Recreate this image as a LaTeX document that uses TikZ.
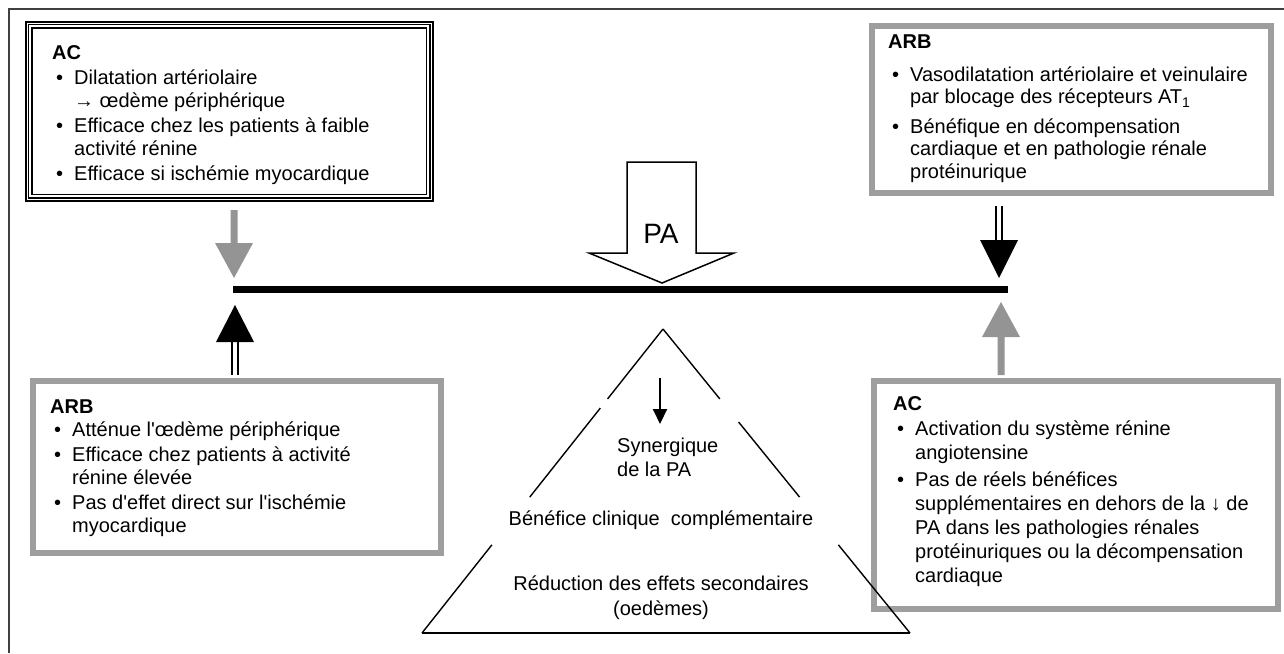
\documentclass[tikz,border=0pt]{standalone}
\usepackage{fontspec}
\setmainfont{Liberation Sans}
\usetikzlibrary{calc,arrows.meta}
\definecolor{boxgray}{gray}{0.62}
\definecolor{arrgray}{gray}{0.58}
\newcommand\bul{\hspace*{4pt}\makebox[18pt][l]{\textbullet}}
\newcommand\cont{\hspace*{22pt}}
\begin{document}
\begin{tikzpicture}[x=1pt,y=-1pt,
  txt/.style={inner sep=0pt, anchor=north west, align=left, font=\fontsize{20}{22.5}\selectfont},
  tritxt/.style={inner sep=0pt, font=\fontsize{20}{22.5}\selectfont},
  graybox/.style={draw=boxgray, line width=5.5pt, inner sep=0pt, anchor=north west},
  blackbox/.style={draw=black, line width=1.5pt, inner sep=0pt, anchor=north west},
  grayarrow/.style={fill=arrgray, draw=none},
  blackhead/.style={fill=black, draw=none},
  dblshaft/.style={draw=black, line width=1.6pt},
  triline/.style={draw=black, line width=1.4pt},
  pashape/.style={draw=black, line width=1.5pt, fill=white, line join=miter}
]
\useasboundingbox (0,0) rectangle (1284,653);
\fill[white] (0,0) rectangle (1284,653);
% outer frame
\draw[black!75, line width=1.2pt] (9,653) -- (9,9) -- (1284,9);

% ---------- boxes ----------
\node[blackbox, minimum width=407pt, minimum height=179pt] (acTL) at (25,21) {};
\draw[line width=1.1pt] ($(acTL.north west)+(3.5,3.5)$) rectangle ($(acTL.south east)+(-3.5,-3.5)$);
\draw[line width=1.1pt] ($(acTL.north west)+(7,7)$) rectangle ($(acTL.south east)+(-7,-7)$);

\node[graybox, minimum width=399pt, minimum height=167pt] (arbTR) at (869,23) {};
\node[graybox, minimum width=408pt, minimum height=172pt] (arbBL) at (30,378) {};
\node[graybox, minimum width=404pt, minimum height=228pt] (acBR) at (871,378) {};

% ---------- box texts ----------
\node[txt] (tAC1) at (52,45) {\textbf{AC}\\[3pt]
\bul Dilatation artériolaire\\
\cont → œdème périphérique\\[3pt]
\bul Efficace chez les patients à faible\\
\cont activité rénine\\[3pt]
\bul Efficace si ischémie myocardique};

\node[txt] (tARB1) at (888,35) {\textbf{ARB}\\[10pt]
\bul Vasodilatation artériolaire et veinulaire\\
\cont par blocage des récepteurs AT\textsubscript{1}\\[7pt]
\bul Bénéfique en décompensation\\
\cont cardiaque et en pathologie rénale\\
\cont protéinurique};

\node[txt] (tARB2) at (50,400) {\textbf{ARB}\\
\bul Atténue l\textquotesingle œdème périphérique\\[3pt]
\bul Efficace chez patients à activité\\
\cont rénine élevée\\[3pt]
\bul Pas d\textquotesingle effet direct sur l\textquotesingle ischémie\\
\cont myocardique};

\node[txt, font=\fontsize{20}{24}\selectfont] (tAC2) at (893,396) {\textbf{AC}\\[1pt]
\bul Activation du système rénine\\
\cont angiotensine\\[3pt]
\bul Pas de réels bénéfices\\
\cont supplémentaires en dehors de la ↓ de\\
\cont PA dans les pathologies rénales\\
\cont protéinuriques ou la décompensation\\
\cont cardiaque};

% ---------- balance bar ----------
\node[fill=black, inner sep=0pt, minimum width=775pt, minimum height=7pt, anchor=north west] (bar) at (233,286) {};

% ---------- PA arrow ----------
\coordinate (paTip) at (662,283);
\draw[pashape] (627,162) -- (696,162) -- (696,253) -- (734,253) -- (paTip) -- (589,253) -- (627,253) -- cycle;
\node[inner sep=0pt, anchor=base, font=\fontsize{28}{30}\selectfont] (paText) at (661,243) {PA};

% ---------- side arrows ----------
% left top: gray down from AC box
\coordinate (l1) at (234,210);
\coordinate (l1tip) at (234,278);
\fill[grayarrow] ($(l1)+(-3.5,0)$) -- ($(l1)+(3.5,0)$) -- (237.5,243) -- (253,243) -- (l1tip) -- (215,243) -- (230.5,243) -- cycle;
% left bottom: black up, double shaft from ARB box
\coordinate (l2tip) at (235,305);
\fill[blackhead] (l2tip) -- (254,342) -- (216,342) -- cycle;
\draw[dblshaft] (232,342) -- (232,375);
\draw[dblshaft] (238,342) -- (238,375);
% right top: black down, double shaft from ARB box
\coordinate (r1tip) at (999,278);
\draw[dblshaft] (996,206) -- (996,241);
\draw[dblshaft] (1002,206) -- (1002,241);
\fill[blackhead] (980,240) -- (1018,240) -- (r1tip) -- cycle;
% right bottom: gray up from AC box
\coordinate (r2tip) at (1001,302);
\fill[grayarrow] (r2tip) -- (1020,337) -- (1004.5,337) -- (1004.5,375) -- (997.5,375) -- (997.5,337) -- (982,337) -- cycle;

% ---------- triangle ----------
\coordinate (apex) at (663,329);
\coordinate (bl) at (422,633);
\coordinate (br) at (910,633);
\draw[triline] (bl) -- (br);
\draw[triline] (apex) -- ($(apex)!0.23!(bl)$);
\draw[triline] ($(apex)!0.26!(bl)$) -- ($(apex)!0.553!(bl)$);
\draw[triline] ($(apex)!0.71!(bl)$) -- (bl);
\draw[triline] (apex) -- ($(apex)!0.23!(br)$);
\draw[triline] ($(apex)!0.306!(br)$) -- ($(apex)!0.553!(br)$);
\draw[triline] ($(apex)!0.71!(br)$) -- (br);

\coordinate (sa1) at (660,378);
\coordinate (sa2) at (660,424);
\draw[line width=2pt, -{Triangle[width=14pt,length=15pt]}] (sa1) -- (sa2);

\node[tritxt, anchor=base west] (syn1) at (617,452) {Synergique};
\node[tritxt, anchor=base west] (syn2) at (617,476) {de la PA};
\node[tritxt, anchor=base] (benef) at (661,525) {Bénéfice clinique\ \ complémentaire};
\node[tritxt, anchor=base] (red1) at (661,590) {Réduction des effets secondaires};
\node[tritxt, anchor=base] (red2) at (661,615) {(oedèmes)};
\end{tikzpicture}
\end{document}
